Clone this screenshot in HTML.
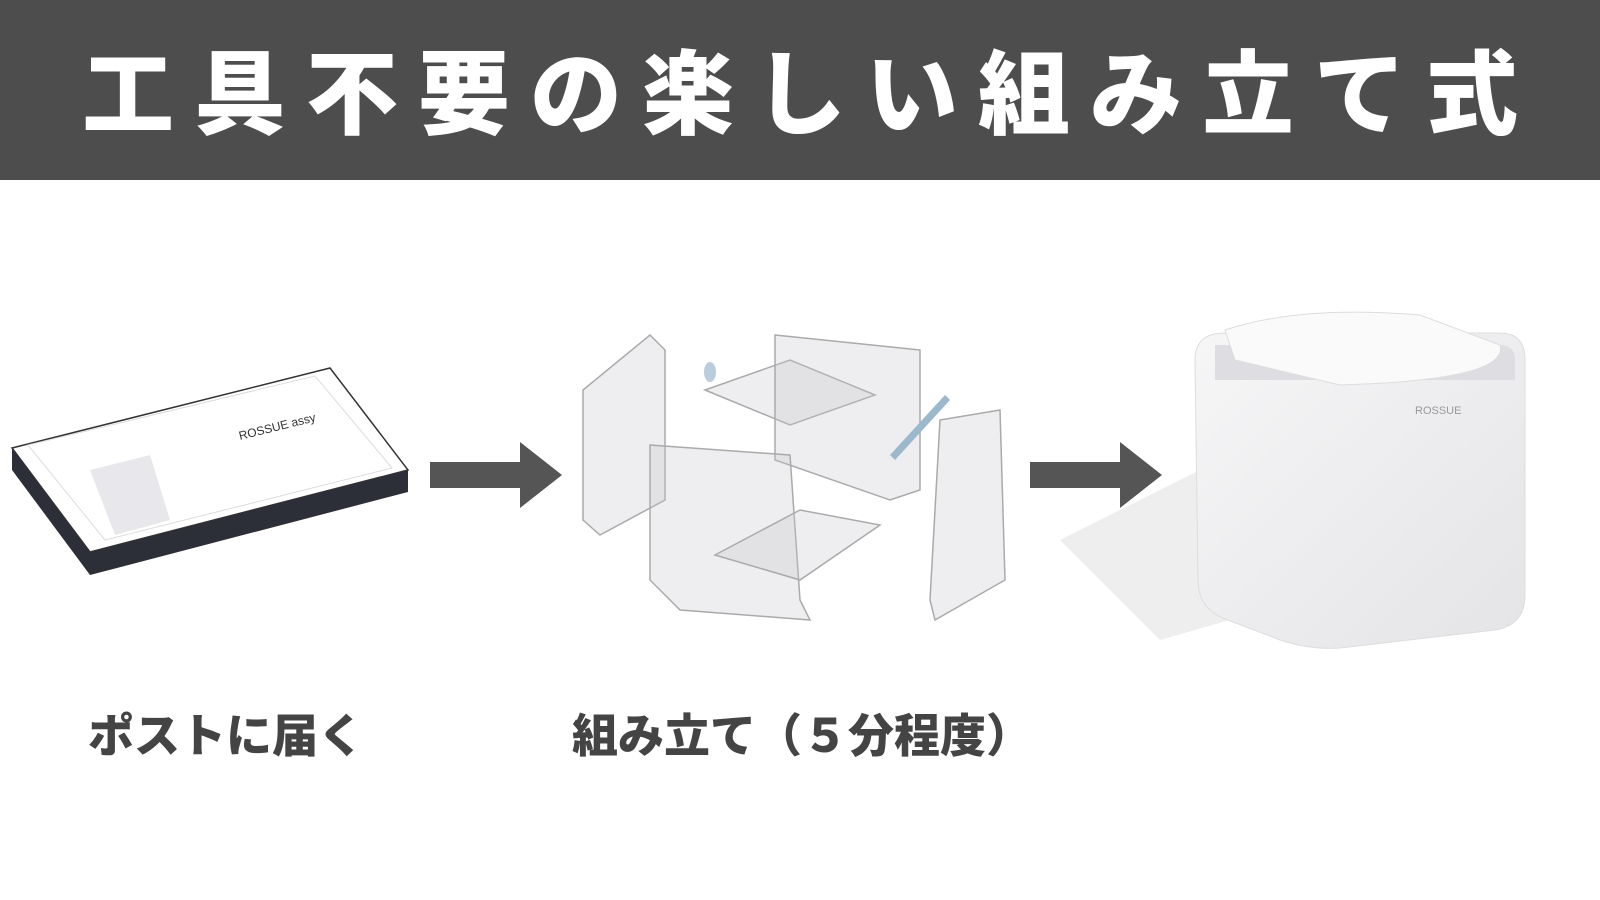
<!DOCTYPE html>
<html><head><meta charset="utf-8"><style>
html,body{margin:0;padding:0;width:1600px;height:900px;background:#fff;overflow:hidden}
.hdr{position:absolute;left:0;top:0;width:1600px;height:180px;background:#4d4d4d}
.t{position:absolute;top:18px;left:0;width:1600px;text-align:center;color:#fff;font:900 92px/140px "Noto Sans CJK JP",sans-serif;letter-spacing:20px;text-indent:20px;font-weight:900}
.l{position:absolute;color:#444;font:900 46px "Noto Sans CJK JP",sans-serif;font-weight:900;white-space:nowrap}
svg{position:absolute;left:0;top:0}
</style></head><body>
<div class="hdr"></div>
<div class="t">工具不要の楽しい組み立て式</div>
<svg width="1600" height="900">
<defs><linearGradient id="pg" x1="0" x2="1" y1="0" y2="1"><stop offset="0" stop-color="#f6f6f7"/><stop offset="1" stop-color="#e4e4e7"/></linearGradient></defs>
<polygon points="430,462 520,462 520,442 562,475 520,508 520,488 430,488" fill="#555"/>
<polygon points="1030,462 1120,462 1120,442 1162,475 1120,508 1120,488 1030,488" fill="#555"/>
<polygon points="12,448 330,368 408,470 90,552" fill="#fff" stroke="#333" stroke-width="1.5"/>
<polygon points="12,448 90,552 90,575 12,470" fill="#2d2f38"/>
<polygon points="90,552 408,470 408,492 90,575" fill="#2d2f38"/>
<polygon points="28,445 315,376 392,468 105,540" fill="#fff" stroke="#ddd"/>
<polygon points="90,470 150,455 170,520 115,535" fill="#e8e8ec"/>
<text x="240" y="440" font-family="Liberation Sans" font-size="12" fill="#333" transform="rotate(-14 240 440)">ROSSUE assy</text>
<g fill="rgba(200,200,205,0.3)" stroke="#aaa" stroke-width="1.5">
<polygon points="583,390 650,335 665,350 665,500 600,535 583,520"/>
<polygon points="705,390 790,360 875,395 790,425"/>
<polygon points="775,335 920,350 920,490 890,500 775,460"/>
<polygon points="650,445 790,455 800,600 810,620 680,610 650,580"/>
<polygon points="715,555 800,510 880,525 800,580"/>
<polygon points="940,420 1000,410 1005,580 935,620 930,600"/>
</g>
<polygon points="890,455 945,395 950,400 895,460" fill="#9bb8cc"/>
<ellipse cx="710" cy="372" rx="6" ry="10" fill="#bcd"/>
<polygon points="1060,540 1200,470 1300,600 1160,640" fill="#eeeeee"/>
<path d="M1195,360 Q1195,333 1225,333 L1500,333 Q1525,333 1525,360 L1525,595 Q1525,625 1495,630 L1340,648 Q1310,650 1280,640 L1228,620 Q1198,610 1198,580 Z" fill="url(#pg)" stroke="#ddd"/>
<path d="M1215,345 L1500,345 Q1515,345 1515,360 L1515,380 L1215,380 Z" fill="#dedee2"/>
<path d="M1225,330 Q1300,305 1420,315 L1500,345 Q1510,380 1340,385 L1235,360 Z" fill="#fafafa" stroke="#ddd"/>
<text x="1415" y="414" font-family="Liberation Sans" font-size="11" fill="#999">ROSSUE</text>
</svg>
<div class="l" style="left:88px;top:700px">ポストに届く</div>
<div class="l" style="left:572px;top:700px">組み立て（５分程度）</div>
</body></html>
